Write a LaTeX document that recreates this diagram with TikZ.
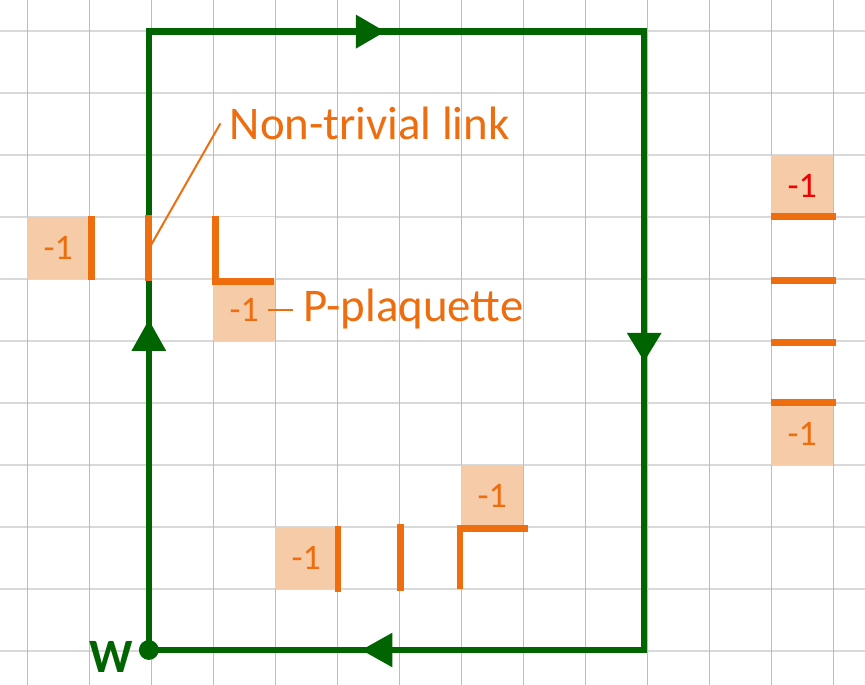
\documentclass[tikz,border=0pt]{standalone}
\usepackage{fontspec}
\setmainfont{Carlito}
\definecolor{orng}{HTML}{EE6D0E}
\definecolor{peach}{HTML}{F6CBA8}
\definecolor{grn}{HTML}{006400}
\definecolor{redc}{HTML}{F00000}
\definecolor{gridH}{HTML}{D9D9D9}
\definecolor{gridV}{HTML}{BDBDBD}
\begin{document}
\begin{tikzpicture}[x=1cm,y=1cm,
  gridh/.style={draw=gridH, line width=0.024cm},
  gridv/.style={draw=gridV, line width=0.016cm},
  cell/.style={fill=peach, minimum size=1cm, inner sep=0pt, text=orng, font=\fontsize{16.5}{19}\selectfont},
  link/.style={draw=orng, line width=0.108cm, line cap=butt, line join=miter},
  loopline/.style={draw=grn, line width=0.105cm, line join=miter},
  head/.style={fill=grn},
  lbl/.style={text=orng, inner sep=0pt, font=\fontsize{21.5}{26}\selectfont},
  pointer/.style={draw=orng, line width=0.032cm}]

\useasboundingbox (-0.4403,-0.5484) rectangle (13.5113,10.5);
\fill[white] (-0.4403,-0.5484) rectangle (13.5113,10.5);
\foreach \y in {0,...,10} \draw[gridh] (-0.4403,\y) -- (13.5113,\y);
\foreach \x in {0,...,13} \draw[gridv] (\x,-0.5484) -- (\x,10.5);

% whitened plaquette cell
\fill[white, opacity=0.85] (3,6) rectangle (4,7);

% peach cells
\node[cell] (c1) at (0.5,6.5) {-1};
\node[cell] (c2) at (3.5,5.5) {-1};
\node[cell] (c3) at (4.5,1.5) {-1};
\node[cell] (c4) at (7.5,2.5) {-1};
\node[cell, text=redc] (c5) at (12.5,7.5) {-1};
\node[cell] (c6) at (12.5,3.5) {-1};

% green Wilson loop
\coordinate (W) at (1.96,0.016);
\coordinate (TL) at (1.96,9.99);
\coordinate (TR) at (9.95,9.99);
\coordinate (BR) at (9.95,0.016);
\draw[loopline] (W) -- (TL) -- (TR) -- (BR) -- cycle;

\fill[head] (5.30,10.264) -- (5.77,9.99) -- (5.30,9.716) -- cycle;
\fill[head] (1.68,4.84) -- (1.96,5.34) -- (2.24,4.84) -- cycle;
\fill[head] (9.67,5.13) -- (9.95,4.67) -- (10.23,5.13) -- cycle;
\fill[head] (5.89,0.296) -- (5.39,0.016) -- (5.89,-0.264) -- cycle;

\fill[head] (W) circle (0.16);
\node[text=grn, font=\fontsize{22}{26}\selectfont\bfseries, anchor=base, inner sep=0pt] (wl) at (1.35,-0.34) {W};

% orange links
\draw[link] (1.04,5.98) -- (1.04,7.02);
\draw[link] (1.955,5.97) -- (1.955,7.03);
\draw[link] (3.03,7.02) -- (3.03,5.96) -- (3.98,5.96);
\draw[link] (5.01,0.956) -- (5.01,2.016);
\draw[link] (6.02,0.97) -- (6.02,2.05);
\draw[link] (6.98,0.995) -- (6.98,1.98) -- (8.08,1.98);
\foreach \y in {7.01,5.98,4.98,4.01} \draw[link] (11.99,\y) -- (13.04,\y);

% labels
\node[lbl, anchor=base west] (ntl) at (3.26,8.25) {Non-trivial link};
\coordinate (nl) at (1.98,6.52);
\draw[pointer] ([xshift=-0.145cm]ntl.west) -- (nl);

\node[lbl, anchor=base west] (pp) at (4.45,5.31) {P-plaquette};
\draw[pointer] ([xshift=-0.12cm]c2.east) -- ([xshift=-0.16cm]c2.east -| pp.west);
\end{tikzpicture}
\end{document}
